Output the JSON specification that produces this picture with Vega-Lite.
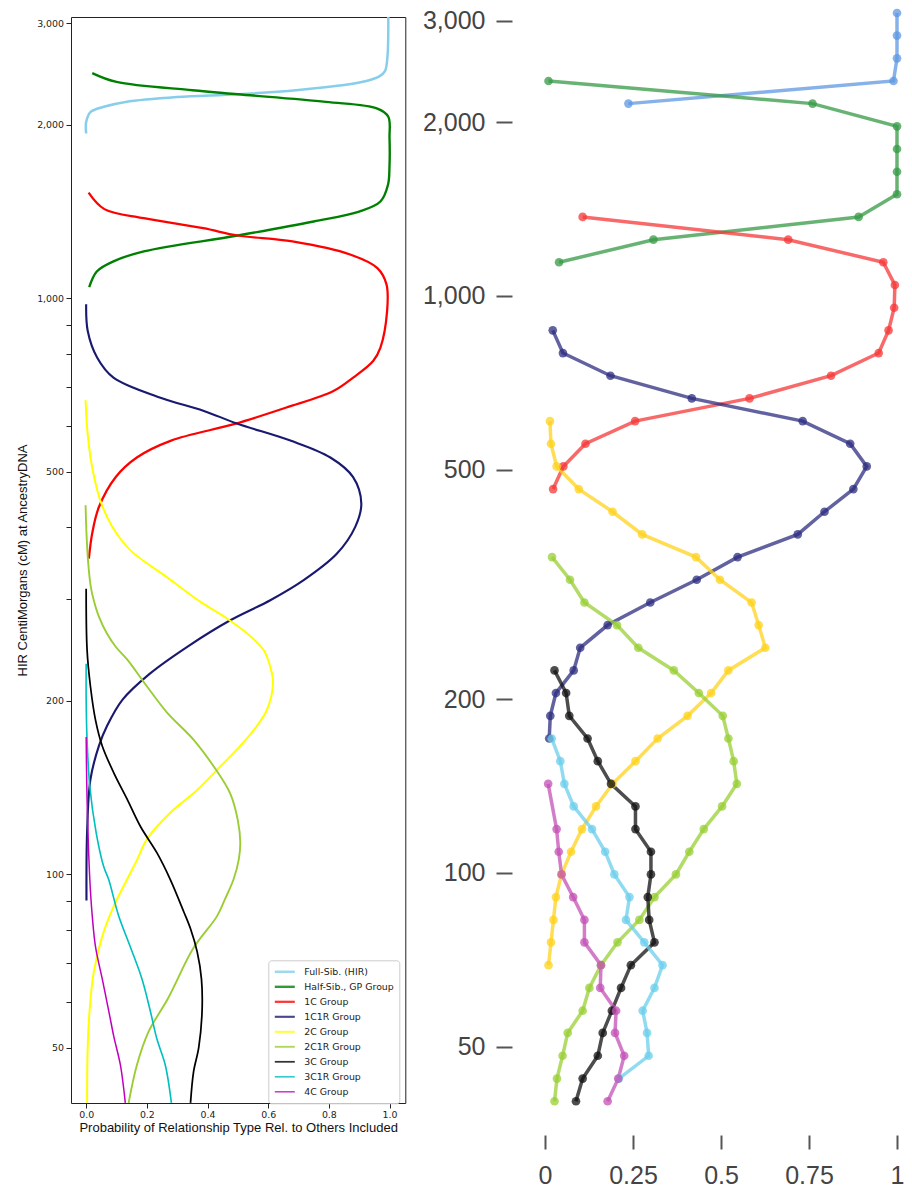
{
  "$schema": "https://vega.github.io/schema/vega-lite/v6.json",
  "background": "white",
  "padding": {"left": 16, "top": 6, "right": 4, "bottom": 4},
  "bounds": "flush",
  "spacing": 139,
  "datasets": {
    "left": [
      {"group": "Full-Sib. (HIR)", "p": 0.0, "cM": 1932},
      {"group": "Full-Sib. (HIR)", "p": 0.0, "cM": 2023},
      {"group": "Full-Sib. (HIR)", "p": 0.015, "cM": 2106},
      {"group": "Full-Sib. (HIR)", "p": 0.058, "cM": 2150},
      {"group": "Full-Sib. (HIR)", "p": 0.13, "cM": 2192},
      {"group": "Full-Sib. (HIR)", "p": 0.3, "cM": 2235},
      {"group": "Full-Sib. (HIR)", "p": 0.5, "cM": 2260},
      {"group": "Full-Sib. (HIR)", "p": 0.7, "cM": 2300},
      {"group": "Full-Sib. (HIR)", "p": 0.85, "cM": 2345},
      {"group": "Full-Sib. (HIR)", "p": 0.92, "cM": 2380},
      {"group": "Full-Sib. (HIR)", "p": 0.965, "cM": 2425},
      {"group": "Full-Sib. (HIR)", "p": 0.985, "cM": 2480},
      {"group": "Full-Sib. (HIR)", "p": 0.993, "cM": 2620},
      {"group": "Full-Sib. (HIR)", "p": 0.996, "cM": 3078},
      {"group": "Half-Sib., GP Group", "p": 0.01, "cM": 1045},
      {"group": "Half-Sib., GP Group", "p": 0.035, "cM": 1113},
      {"group": "Half-Sib., GP Group", "p": 0.09, "cM": 1159},
      {"group": "Half-Sib., GP Group", "p": 0.19, "cM": 1206},
      {"group": "Half-Sib., GP Group", "p": 0.5, "cM": 1285},
      {"group": "Half-Sib., GP Group", "p": 0.75, "cM": 1359},
      {"group": "Half-Sib., GP Group", "p": 0.9, "cM": 1414},
      {"group": "Half-Sib., GP Group", "p": 0.97, "cM": 1472},
      {"group": "Half-Sib., GP Group", "p": 0.995, "cM": 1574},
      {"group": "Half-Sib., GP Group", "p": 1.0, "cM": 1700},
      {"group": "Half-Sib., GP Group", "p": 1.0, "cM": 1900},
      {"group": "Half-Sib., GP Group", "p": 0.996, "cM": 2066},
      {"group": "Half-Sib., GP Group", "p": 0.96, "cM": 2134},
      {"group": "Half-Sib., GP Group", "p": 0.79, "cM": 2192},
      {"group": "Half-Sib., GP Group", "p": 0.5, "cM": 2260},
      {"group": "Half-Sib., GP Group", "p": 0.35, "cM": 2297},
      {"group": "Half-Sib., GP Group", "p": 0.1, "cM": 2374},
      {"group": "Half-Sib., GP Group", "p": 0.02, "cM": 2460},
      {"group": "1C Group", "p": 0.009, "cM": 353},
      {"group": "1C Group", "p": 0.02, "cM": 391},
      {"group": "1C Group", "p": 0.042, "cM": 434},
      {"group": "1C Group", "p": 0.097, "cM": 489},
      {"group": "1C Group", "p": 0.167, "cM": 529},
      {"group": "1C Group", "p": 0.28, "cM": 566},
      {"group": "1C Group", "p": 0.49, "cM": 605},
      {"group": "1C Group", "p": 0.66, "cM": 646},
      {"group": "1C Group", "p": 0.815, "cM": 690},
      {"group": "1C Group", "p": 0.88, "cM": 728},
      {"group": "1C Group", "p": 0.946, "cM": 778},
      {"group": "1C Group", "p": 0.97, "cM": 821},
      {"group": "1C Group", "p": 0.992, "cM": 950},
      {"group": "1C Group", "p": 0.99, "cM": 1057},
      {"group": "1C Group", "p": 0.96, "cM": 1128},
      {"group": "1C Group", "p": 0.87, "cM": 1191},
      {"group": "1C Group", "p": 0.68, "cM": 1255},
      {"group": "1C Group", "p": 0.5, "cM": 1285},
      {"group": "1C Group", "p": 0.386, "cM": 1323},
      {"group": "1C Group", "p": 0.19, "cM": 1377},
      {"group": "1C Group", "p": 0.06, "cM": 1428},
      {"group": "1C Group", "p": 0.008, "cM": 1525},
      {"group": "1C1R Group", "p": 0.001, "cM": 90},
      {"group": "1C1R Group", "p": 0.003, "cM": 118},
      {"group": "1C1R Group", "p": 0.014, "cM": 146},
      {"group": "1C1R Group", "p": 0.042, "cM": 167},
      {"group": "1C1R Group", "p": 0.069, "cM": 181},
      {"group": "1C1R Group", "p": 0.12, "cM": 201},
      {"group": "1C1R Group", "p": 0.21, "cM": 223},
      {"group": "1C1R Group", "p": 0.332, "cM": 248},
      {"group": "1C1R Group", "p": 0.475, "cM": 276},
      {"group": "1C1R Group", "p": 0.607, "cM": 299},
      {"group": "1C1R Group", "p": 0.717, "cM": 324},
      {"group": "1C1R Group", "p": 0.826, "cM": 360},
      {"group": "1C1R Group", "p": 0.887, "cM": 401},
      {"group": "1C1R Group", "p": 0.907, "cM": 440},
      {"group": "1C1R Group", "p": 0.88, "cM": 489},
      {"group": "1C1R Group", "p": 0.805, "cM": 529},
      {"group": "1C1R Group", "p": 0.673, "cM": 566},
      {"group": "1C1R Group", "p": 0.497, "cM": 606},
      {"group": "1C1R Group", "p": 0.386, "cM": 638},
      {"group": "1C1R Group", "p": 0.245, "cM": 672},
      {"group": "1C1R Group", "p": 0.09, "cM": 728},
      {"group": "1C1R Group", "p": 0.036, "cM": 789},
      {"group": "1C1R Group", "p": 0.005, "cM": 878},
      {"group": "1C1R Group", "p": 0.0, "cM": 976},
      {"group": "2C Group", "p": 0.003, "cM": 40.1},
      {"group": "2C Group", "p": 0.005, "cM": 50},
      {"group": "2C Group", "p": 0.011, "cM": 57.7},
      {"group": "2C Group", "p": 0.025, "cM": 67.6},
      {"group": "2C Group", "p": 0.053, "cM": 78},
      {"group": "2C Group", "p": 0.091, "cM": 88},
      {"group": "2C Group", "p": 0.135, "cM": 98},
      {"group": "2C Group", "p": 0.168, "cM": 106},
      {"group": "2C Group", "p": 0.2, "cM": 115},
      {"group": "2C Group", "p": 0.278, "cM": 128},
      {"group": "2C Group", "p": 0.366, "cM": 140},
      {"group": "2C Group", "p": 0.443, "cM": 154},
      {"group": "2C Group", "p": 0.508, "cM": 167},
      {"group": "2C Group", "p": 0.563, "cM": 181},
      {"group": "2C Group", "p": 0.596, "cM": 193},
      {"group": "2C Group", "p": 0.616, "cM": 215},
      {"group": "2C Group", "p": 0.607, "cM": 229},
      {"group": "2C Group", "p": 0.585, "cM": 245},
      {"group": "2C Group", "p": 0.53, "cM": 262},
      {"group": "2C Group", "p": 0.464, "cM": 278},
      {"group": "2C Group", "p": 0.377, "cM": 297},
      {"group": "2C Group", "p": 0.266, "cM": 328},
      {"group": "2C Group", "p": 0.146, "cM": 365},
      {"group": "2C Group", "p": 0.086, "cM": 401},
      {"group": "2C Group", "p": 0.047, "cM": 445},
      {"group": "2C Group", "p": 0.02, "cM": 508},
      {"group": "2C Group", "p": 0.005, "cM": 581},
      {"group": "2C Group", "p": -0.002, "cM": 665},
      {"group": "2C1R Group", "p": 0.14, "cM": 40.1},
      {"group": "2C1R Group", "p": 0.167, "cM": 46.6},
      {"group": "2C1R Group", "p": 0.205, "cM": 53.2},
      {"group": "2C1R Group", "p": 0.27, "cM": 60.9},
      {"group": "2C1R Group", "p": 0.354, "cM": 74.5},
      {"group": "2C1R Group", "p": 0.431, "cM": 84.5},
      {"group": "2C1R Group", "p": 0.458, "cM": 90.6},
      {"group": "2C1R Group", "p": 0.486, "cM": 98},
      {"group": "2C1R Group", "p": 0.503, "cM": 106},
      {"group": "2C1R Group", "p": 0.508, "cM": 113.5},
      {"group": "2C1R Group", "p": 0.5, "cM": 124},
      {"group": "2C1R Group", "p": 0.475, "cM": 138},
      {"group": "2C1R Group", "p": 0.42, "cM": 154},
      {"group": "2C1R Group", "p": 0.355, "cM": 171},
      {"group": "2C1R Group", "p": 0.266, "cM": 191},
      {"group": "2C1R Group", "p": 0.2, "cM": 212},
      {"group": "2C1R Group", "p": 0.135, "cM": 236},
      {"group": "2C1R Group", "p": 0.098, "cM": 248},
      {"group": "2C1R Group", "p": 0.068, "cM": 262},
      {"group": "2C1R Group", "p": 0.042, "cM": 280},
      {"group": "2C1R Group", "p": 0.025, "cM": 299},
      {"group": "2C1R Group", "p": 0.015, "cM": 316},
      {"group": "2C1R Group", "p": 0.006, "cM": 351},
      {"group": "2C1R Group", "p": 0.001, "cM": 391},
      {"group": "2C1R Group", "p": -0.002, "cM": 437},
      {"group": "3C Group", "p": 0.344, "cM": 40.1},
      {"group": "3C Group", "p": 0.354, "cM": 45.4},
      {"group": "3C Group", "p": 0.371, "cM": 50},
      {"group": "3C Group", "p": 0.382, "cM": 57.7},
      {"group": "3C Group", "p": 0.38, "cM": 65.8},
      {"group": "3C Group", "p": 0.366, "cM": 73.3},
      {"group": "3C Group", "p": 0.344, "cM": 80.4},
      {"group": "3C Group", "p": 0.322, "cM": 86},
      {"group": "3C Group", "p": 0.277, "cM": 98},
      {"group": "3C Group", "p": 0.233, "cM": 109},
      {"group": "3C Group", "p": 0.179, "cM": 121},
      {"group": "3C Group", "p": 0.135, "cM": 135},
      {"group": "3C Group", "p": 0.091, "cM": 150},
      {"group": "3C Group", "p": 0.053, "cM": 167},
      {"group": "3C Group", "p": 0.031, "cM": 185},
      {"group": "3C Group", "p": 0.014, "cM": 212},
      {"group": "3C Group", "p": 0.003, "cM": 245},
      {"group": "3C Group", "p": 0.0, "cM": 313},
      {"group": "3C1R Group", "p": 0.281, "cM": 40.1},
      {"group": "3C1R Group", "p": 0.261, "cM": 46.6},
      {"group": "3C1R Group", "p": 0.233, "cM": 51.8},
      {"group": "3C1R Group", "p": 0.212, "cM": 57.7},
      {"group": "3C1R Group", "p": 0.184, "cM": 65.8},
      {"group": "3C1R Group", "p": 0.146, "cM": 74.7},
      {"group": "3C1R Group", "p": 0.107, "cM": 84.7},
      {"group": "3C1R Group", "p": 0.074, "cM": 98},
      {"group": "3C1R Group", "p": 0.058, "cM": 103},
      {"group": "3C1R Group", "p": 0.033, "cM": 118},
      {"group": "3C1R Group", "p": 0.012, "cM": 142},
      {"group": "3C1R Group", "p": 0.003, "cM": 171},
      {"group": "3C1R Group", "p": 0.0, "cM": 201},
      {"group": "3C1R Group", "p": 0.0, "cM": 232},
      {"group": "4C Group", "p": 0.129, "cM": 40.1},
      {"group": "4C Group", "p": 0.113, "cM": 46.6},
      {"group": "4C Group", "p": 0.091, "cM": 52.3},
      {"group": "4C Group", "p": 0.075, "cM": 57.7},
      {"group": "4C Group", "p": 0.053, "cM": 65.8},
      {"group": "4C Group", "p": 0.031, "cM": 74.7},
      {"group": "4C Group", "p": 0.02, "cM": 84.7},
      {"group": "4C Group", "p": 0.012, "cM": 98},
      {"group": "4C Group", "p": 0.003, "cM": 135},
      {"group": "4C Group", "p": 0.0, "cM": 173}
    ],
    "right": [
      {"group": "Full-Sib. (HIR)", "p": 1.0, "cM": 3094},
      {"group": "Full-Sib. (HIR)", "p": 1.0, "cM": 2827},
      {"group": "Full-Sib. (HIR)", "p": 1.0, "cM": 2582},
      {"group": "Full-Sib. (HIR)", "p": 0.99, "cM": 2359},
      {"group": "Full-Sib. (HIR)", "p": 0.237, "cM": 2155},
      {"group": "Half-Sib., GP Group", "p": 0.01, "cM": 2359},
      {"group": "Half-Sib., GP Group", "p": 0.76, "cM": 2155},
      {"group": "Half-Sib., GP Group", "p": 1.0, "cM": 1968},
      {"group": "Half-Sib., GP Group", "p": 1.0, "cM": 1798},
      {"group": "Half-Sib., GP Group", "p": 1.0, "cM": 1642},
      {"group": "Half-Sib., GP Group", "p": 1.0, "cM": 1501},
      {"group": "Half-Sib., GP Group", "p": 0.891, "cM": 1371},
      {"group": "Half-Sib., GP Group", "p": 0.308, "cM": 1252},
      {"group": "Half-Sib., GP Group", "p": 0.04, "cM": 1144},
      {"group": "1C Group", "p": 0.107, "cM": 1371},
      {"group": "1C Group", "p": 0.691, "cM": 1252},
      {"group": "1C Group", "p": 0.961, "cM": 1144},
      {"group": "1C Group", "p": 0.994, "cM": 1045},
      {"group": "1C Group", "p": 0.992, "cM": 954.3},
      {"group": "1C Group", "p": 0.976, "cM": 871.8},
      {"group": "1C Group", "p": 0.948, "cM": 796.3},
      {"group": "1C Group", "p": 0.8125, "cM": 727.5},
      {"group": "1C Group", "p": 0.581, "cM": 664.5},
      {"group": "1C Group", "p": 0.256, "cM": 607},
      {"group": "1C Group", "p": 0.115, "cM": 554.5},
      {"group": "1C Group", "p": 0.052, "cM": 506.5},
      {"group": "1C Group", "p": 0.023, "cM": 462.7},
      {"group": "1C1R Group", "p": 0.022, "cM": 871.8},
      {"group": "1C1R Group", "p": 0.051, "cM": 796.3},
      {"group": "1C1R Group", "p": 0.186, "cM": 727.5},
      {"group": "1C1R Group", "p": 0.417, "cM": 664.5},
      {"group": "1C1R Group", "p": 0.732, "cM": 607},
      {"group": "1C1R Group", "p": 0.867, "cM": 554.5},
      {"group": "1C1R Group", "p": 0.914, "cM": 506.5},
      {"group": "1C1R Group", "p": 0.876, "cM": 462.7},
      {"group": "1C1R Group", "p": 0.794, "cM": 422.7},
      {"group": "1C1R Group", "p": 0.718, "cM": 386.1},
      {"group": "1C1R Group", "p": 0.547, "cM": 352.7},
      {"group": "1C1R Group", "p": 0.431, "cM": 322.2},
      {"group": "1C1R Group", "p": 0.299, "cM": 294.3},
      {"group": "1C1R Group", "p": 0.178, "cM": 268.9},
      {"group": "1C1R Group", "p": 0.1, "cM": 245.6},
      {"group": "1C1R Group", "p": 0.0815, "cM": 224.4},
      {"group": "1C1R Group", "p": 0.031, "cM": 205},
      {"group": "1C1R Group", "p": 0.015, "cM": 187.2},
      {"group": "1C1R Group", "p": 0.012, "cM": 171},
      {"group": "2C Group", "p": 0.014, "cM": 607},
      {"group": "2C Group", "p": 0.017, "cM": 554.5},
      {"group": "2C Group", "p": 0.033, "cM": 506.5},
      {"group": "2C Group", "p": 0.096, "cM": 462.7},
      {"group": "2C Group", "p": 0.192, "cM": 422.7},
      {"group": "2C Group", "p": 0.276, "cM": 386.1},
      {"group": "2C Group", "p": 0.429, "cM": 352.7},
      {"group": "2C Group", "p": 0.497, "cM": 322.2},
      {"group": "2C Group", "p": 0.587, "cM": 294.3},
      {"group": "2C Group", "p": 0.607, "cM": 268.9},
      {"group": "2C Group", "p": 0.626, "cM": 245.6},
      {"group": "2C Group", "p": 0.521, "cM": 224.4},
      {"group": "2C Group", "p": 0.472, "cM": 205},
      {"group": "2C Group", "p": 0.405, "cM": 187.2},
      {"group": "2C Group", "p": 0.32, "cM": 171},
      {"group": "2C Group", "p": 0.257, "cM": 156.2},
      {"group": "2C Group", "p": 0.192, "cM": 142.7},
      {"group": "2C Group", "p": 0.145, "cM": 130.4},
      {"group": "2C Group", "p": 0.105, "cM": 119.1},
      {"group": "2C Group", "p": 0.074, "cM": 108.8},
      {"group": "2C Group", "p": 0.047, "cM": 99.4},
      {"group": "2C Group", "p": 0.031, "cM": 90.8},
      {"group": "2C Group", "p": 0.024, "cM": 82.9},
      {"group": "2C Group", "p": 0.017, "cM": 75.8},
      {"group": "2C Group", "p": 0.01, "cM": 69.2},
      {"group": "2C1R Group", "p": 0.02, "cM": 352.7},
      {"group": "2C1R Group", "p": 0.071, "cM": 322.2},
      {"group": "2C1R Group", "p": 0.112, "cM": 294.3},
      {"group": "2C1R Group", "p": 0.2045, "cM": 268.9},
      {"group": "2C1R Group", "p": 0.265, "cM": 245.6},
      {"group": "2C1R Group", "p": 0.366, "cM": 224.4},
      {"group": "2C1R Group", "p": 0.437, "cM": 205},
      {"group": "2C1R Group", "p": 0.505, "cM": 187.2},
      {"group": "2C1R Group", "p": 0.521, "cM": 171},
      {"group": "2C1R Group", "p": 0.536, "cM": 156.2},
      {"group": "2C1R Group", "p": 0.545, "cM": 142.7},
      {"group": "2C1R Group", "p": 0.503, "cM": 130.4},
      {"group": "2C1R Group", "p": 0.451, "cM": 119.1},
      {"group": "2C1R Group", "p": 0.41, "cM": 108.8},
      {"group": "2C1R Group", "p": 0.372, "cM": 99.4},
      {"group": "2C1R Group", "p": 0.311, "cM": 90.8},
      {"group": "2C1R Group", "p": 0.268, "cM": 82.9},
      {"group": "2C1R Group", "p": 0.206, "cM": 75.8},
      {"group": "2C1R Group", "p": 0.159, "cM": 69.2},
      {"group": "2C1R Group", "p": 0.126, "cM": 63.2},
      {"group": "2C1R Group", "p": 0.107, "cM": 57.7},
      {"group": "2C1R Group", "p": 0.0645, "cM": 52.8},
      {"group": "2C1R Group", "p": 0.05, "cM": 48.2},
      {"group": "2C1R Group", "p": 0.034, "cM": 44.0},
      {"group": "2C1R Group", "p": 0.027, "cM": 40.2},
      {"group": "3C Group", "p": 0.027, "cM": 224.4},
      {"group": "3C Group", "p": 0.06, "cM": 205},
      {"group": "3C Group", "p": 0.069, "cM": 187.2},
      {"group": "3C Group", "p": 0.121, "cM": 171},
      {"group": "3C Group", "p": 0.15, "cM": 156.2},
      {"group": "3C Group", "p": 0.1875, "cM": 142.7},
      {"group": "3C Group", "p": 0.257, "cM": 130.4},
      {"group": "3C Group", "p": 0.257, "cM": 119.1},
      {"group": "3C Group", "p": 0.301, "cM": 108.8},
      {"group": "3C Group", "p": 0.301, "cM": 99.4},
      {"group": "3C Group", "p": 0.292, "cM": 90.8},
      {"group": "3C Group", "p": 0.296, "cM": 82.9},
      {"group": "3C Group", "p": 0.311, "cM": 75.8},
      {"group": "3C Group", "p": 0.244, "cM": 69.2},
      {"group": "3C Group", "p": 0.216, "cM": 63.2},
      {"group": "3C Group", "p": 0.19, "cM": 57.7},
      {"group": "3C Group", "p": 0.164, "cM": 52.8},
      {"group": "3C Group", "p": 0.15, "cM": 48.2},
      {"group": "3C Group", "p": 0.107, "cM": 44.0},
      {"group": "3C Group", "p": 0.088, "cM": 40.2},
      {"group": "3C1R Group", "p": 0.019, "cM": 171},
      {"group": "3C1R Group", "p": 0.0435, "cM": 156.2},
      {"group": "3C1R Group", "p": 0.055, "cM": 142.7},
      {"group": "3C1R Group", "p": 0.0815, "cM": 130.4},
      {"group": "3C1R Group", "p": 0.1335, "cM": 119.1},
      {"group": "3C1R Group", "p": 0.171, "cM": 108.8},
      {"group": "3C1R Group", "p": 0.197, "cM": 99.4},
      {"group": "3C1R Group", "p": 0.24, "cM": 90.8},
      {"group": "3C1R Group", "p": 0.23, "cM": 82.9},
      {"group": "3C1R Group", "p": 0.282, "cM": 75.8},
      {"group": "3C1R Group", "p": 0.334, "cM": 69.2},
      {"group": "3C1R Group", "p": 0.311, "cM": 63.2},
      {"group": "3C1R Group", "p": 0.2775, "cM": 57.7},
      {"group": "3C1R Group", "p": 0.29, "cM": 52.8},
      {"group": "3C1R Group", "p": 0.2945, "cM": 48.2},
      {"group": "3C1R Group", "p": 0.21, "cM": 44.0},
      {"group": "4C Group", "p": 0.009, "cM": 142.7},
      {"group": "4C Group", "p": 0.033, "cM": 119.1},
      {"group": "4C Group", "p": 0.039, "cM": 108.8},
      {"group": "4C Group", "p": 0.047, "cM": 99.4},
      {"group": "4C Group", "p": 0.08, "cM": 90.8},
      {"group": "4C Group", "p": 0.112, "cM": 82.9},
      {"group": "4C Group", "p": 0.112, "cM": 75.8},
      {"group": "4C Group", "p": 0.159, "cM": 69.2},
      {"group": "4C Group", "p": 0.157, "cM": 63.2},
      {"group": "4C Group", "p": 0.202, "cM": 57.7},
      {"group": "4C Group", "p": 0.199, "cM": 52.8},
      {"group": "4C Group", "p": 0.225, "cM": 48.2},
      {"group": "4C Group", "p": 0.208, "cM": 44.0},
      {"group": "4C Group", "p": 0.178, "cM": 40.2}
    ]
  },
  "hconcat": [
    {
      "width": 334.3,
      "height": 1086,
      "view": {"stroke": "#222222", "strokeWidth": 1},
      "data": {"name": "left"},
      "mark": {"type": "line", "interpolate": "catmull-rom"},
      "encoding": {
        "x": {
          "field": "p",
          "type": "quantitative",
          "scale": {"domain": [-0.05, 1.052], "nice": false, "zero": false},
          "axis": {
            "values": [0, 0.2, 0.4, 0.6, 0.8, 1],
            "format": ".1f",
            "title": "Probability of Relationship Type Rel. to Others Included",
            "domain": false,
            "grid": false,
            "tickColor": "#222222",
            "tickSize": 5,
            "labelPadding": 2.5,
            "labelFont": "DejaVu Sans",
            "labelFontSize": 9.4,
            "labelColor": "#222222",
            "labelFlush": false,
            "titleFont": "Liberation Sans",
            "titleFontSize": 13,
            "titleFontWeight": "normal",
            "titleColor": "#111111",
            "titlePadding": 3
          }
        },
        "y": {
          "field": "cM",
          "type": "quantitative",
          "scale": {"type": "log", "domain": [40.07, 3078], "nice": false},
          "axis": {
            "values": [50, 60, 70, 80, 90, 100, 200, 300, 400, 500, 600, 700, 800, 900, 1000, 2000, 3000],
            "labelExpr": "indexof([50, 100, 200, 500, 1000, 2000, 3000], datum.value) >= 0 ? format(datum.value, ',') : ''",
            "labelOverlap": false,
            "title": "HIR CentiMorgans (cM) at AncestryDNA",
            "domain": false,
            "grid": false,
            "tickColor": "#222222",
            "tickSize": 5,
            "labelPadding": 2.5,
            "labelFont": "DejaVu Sans",
            "labelFontSize": 9.4,
            "labelColor": "#222222",
            "titleFont": "Liberation Sans",
            "titleFontSize": 13,
            "titleFontWeight": "normal",
            "titleColor": "#111111",
            "titlePadding": 7
          }
        },
        "color": {
          "field": "group",
          "type": "nominal",
          "scale": {
            "domain": ["Full-Sib. (HIR)", "Half-Sib., GP Group", "1C Group", "1C1R Group", "2C Group", "2C1R Group", "3C Group", "3C1R Group", "4C Group"],
            "range": ["#87ceeb", "#008000", "#ff0000", "#191970", "#ffff00", "#9acd32", "#000000", "#00bfbf", "#bf00bf"]
          },
          "legend": {
            "orient": "none",
            "legendX": 197.3,
            "legendY": 943.3,
            "title": null,
            "fillColor": "rgba(255,255,255,0.85)",
            "strokeColor": "#cccccc",
            "cornerRadius": 3,
            "padding": 5,
            "symbolType": "stroke",
            "symbolSize": 400,
            "symbolStrokeWidth": 2,
            "symbolOpacity": 0.8,
            "labelFont": "DejaVu Sans",
            "labelFontSize": 9.4,
            "labelColor": "#222222",
            "rowPadding": 2,
            "clipHeight": 13,
            "labelOffset": 8
          }
        },
        "strokeWidth": {
          "field": "group",
          "type": "ordinal",
          "scale": {
            "domain": ["Full-Sib. (HIR)", "Half-Sib., GP Group", "1C Group", "1C1R Group", "2C Group", "2C1R Group", "3C Group", "3C1R Group", "4C Group"],
            "range": [2.5, 1.5, 1.5, 1.5, 2.5, 1.5, 1.5, 2, 1]
          },
          "legend": null
        },
        "order": {"field": "cM", "type": "quantitative"}
      }
    },
    {
      "width": 352,
      "height": 1086,
      "view": {"stroke": null},
      "data": {"name": "right"},
      "encoding": {
        "x": {
          "field": "p",
          "type": "quantitative",
          "scale": {"domain": [0, 1], "nice": false},
          "axis": {
            "values": [0, 0.25, 0.5, 0.75, 1],
            "labelExpr": "'' + datum.value",
            "title": null,
            "domain": false,
            "grid": false,
            "offset": 32,
            "tickSize": 14,
            "tickWidth": 2,
            "tickColor": "#555555",
            "labelFont": "Liberation Sans",
            "labelFontSize": 25,
            "labelColor": "#444444",
            "labelPadding": 14,
            "labelFlush": false
          }
        },
        "y": {
          "field": "cM",
          "type": "quantitative",
          "scale": {"type": "log", "domain": [39.92, 3045], "nice": false},
          "axis": {
            "values": [50, 100, 200, 500, 1000, 2000, 3000],
            "format": ",",
            "title": null,
            "domain": false,
            "grid": false,
            "offset": 33,
            "tickSize": 16,
            "tickWidth": 2,
            "tickColor": "#555555",
            "labelFont": "Liberation Sans",
            "labelFontSize": 25,
            "labelColor": "#444444",
            "labelPadding": 11,
            "labelOverlap": false
          }
        },
        "color": {
          "field": "group",
          "type": "nominal",
          "scale": {
            "domain": ["Full-Sib. (HIR)", "Half-Sib., GP Group", "1C Group", "1C1R Group", "2C Group", "2C1R Group", "3C Group", "3C1R Group", "4C Group"],
            "range": ["#5e98e2", "#359a45", "#f53838", "#2e2e80", "#ffd21c", "#98cf34", "#111111", "#6ccfec", "#c452b6"]
          },
          "legend": null
        },
        "order": {"field": "cM", "type": "quantitative"}
      },
      "layer": [
        {"mark": {"type": "line", "strokeWidth": 3.5, "opacity": 0.75}},
        {"mark": {"type": "point", "filled": true, "size": 75, "opacity": 0.75}}
      ]
    }
  ],
  "resolve": {
    "scale": {"x": "independent", "y": "independent", "color": "independent", "strokeWidth": "independent"},
    "legend": {"color": "independent"}
  },
  "config": {
    "view": {"stroke": null},
    "axis": {"grid": false}
  }
}
